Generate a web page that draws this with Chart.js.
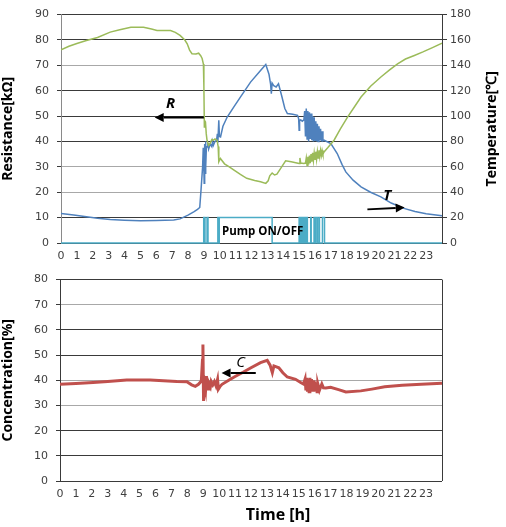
<!DOCTYPE html>
<html><head><meta charset="utf-8">
<script src="https://cdn.jsdelivr.net/npm/chart.js@4.4.0/dist/chart.umd.min.js"></script>
<style>
html,body{margin:0;padding:0;background:#fff;}
#top{position:absolute;left:0;top:0;}
#bot{position:absolute;left:0;top:265px;}
</style></head><body>
<canvas id="top" width="506" height="265"></canvas>
<canvas id="bot" width="506" height="262"></canvas>
<script>
// ---------- DATA ----------
const hourTicks = [0,1,2,3,4,5,6,7,8,9,10,11,12,13,14,15,16,17,18,19,20,21,22,23];

// Resistance R [kOhm] (green, left axis)
const rTime = [0,0.5,1.0,1.6,2.3,3.1,3.7,4.4,5.2,5.7,6.05,6.9,7.2,7.5,7.8,7.95,8.1,8.25,8.5,8.67,8.8,8.89,8.97,9.0,9.03,9.07,9.1,9.15,9.2,9.3,9.4,9.5,9.6,9.7,9.83,9.9,9.94,10.04,10.3,10.6,10.9,11.3,11.7,12.2,12.57,12.9,13.05,13.15,13.3,13.45,13.6,13.9,14.15,14.5,15.0,15.05,15.1,15.3,15.4,15.45,15.5,15.55,15.6,15.65,15.7,15.75,15.8,15.85,15.9,15.95,16.0,16.05,16.1,16.15,16.2,16.25,16.3,16.35,16.4,16.45,16.5,16.57,16.8,17.2,17.6,18.05,18.5,18.9,19.5,20.15,20.7,21.2,21.7,22.26,22.8,23.4,24.0];
const rValues = [76.1,77.5,78.6,79.8,81.0,83.1,84.0,85.0,85.0,84.3,83.7,83.7,83.0,81.8,80.0,78.5,76.0,74.6,74.5,74.8,73.8,72.7,70.5,62,45.7,48,47.7,43,40.5,38.5,39.3,40.8,40.5,41,40.5,38,32,33.3,31.2,30,28.7,27,25.5,24.6,24.1,23.5,24.5,26.5,27.6,26.8,27.1,30,32.4,32,31.3,33.5,31.5,31.3,31.5,33.5,30.5,34,31,34.5,31.5,35,32,35.5,32.5,35.5,33,36,33,36,33.5,36.5,34,36.5,34.5,36.5,35,35.9,37.5,40.5,45,49.6,53.8,57.5,61.8,65.4,68.2,70.6,72.5,73.9,75.3,77.0,78.7];

// Temperature T [deg C] (blue, right axis)
const tTime = [0,0.8,1.6,2.3,3.1,4.0,5.0,6.0,7.1,7.5,7.7,8.0,8.36,8.6,8.74,8.82,8.92,8.96,8.99,9.02,9.05,9.08,9.1,9.13,9.16,9.2,9.25,9.3,9.4,9.5,9.55,9.6,9.7,9.8,9.85,9.88,9.94,9.98,10.05,10.2,10.47,10.9,11.3,11.94,12.57,12.9,13.1,13.2,13.25,13.3,13.4,13.55,13.7,13.9,14.1,14.26,14.6,14.9,14.97,15.0,15.03,15.1,15.2,15.3,15.35,15.4,15.45,15.5,15.55,15.6,15.65,15.7,15.75,15.8,15.85,15.9,15.95,16.0,16.05,16.1,16.15,16.2,16.25,16.3,16.35,16.4,16.45,16.5,16.57,17.0,17.4,17.7,17.94,18.4,18.9,19.5,20.15,20.8,21.6,22.3,23.0,24.0];
const tValues = [23.3,22,20.7,19.6,18.6,18,17.5,17.7,18.1,19,20.2,22,24.6,26.5,28,41.7,60,75,62,47,78,55,80,60,76,75.7,79,74,78,76,80,77,80,81,86,79,96.7,84,83.6,92,99.3,107.5,115,126.8,136,140.7,133,125.5,117.7,126,124,123,125.5,116,106,102,101.5,100.6,98,88.8,96.7,97,96,97,104,84,106,82,104,80,103,82,102,81,100,80,99,81,96,80,94,80,92,81,90,80,88,80.5,81,78.4,70.5,62,56,49.5,44.3,40,36.4,31.5,27.3,24.8,23,21.5];

// Pump ON/OFF (teal step, left axis: 10 = ON, 0 = OFF); state holds until the next time
const pumpTime  = [0,8.99,9.07,9.2,9.26,9.88,9.92,9.97,13.3,15.0,15.03,15.06,15.09,15.12,15.15,15.18,15.21,15.24,15.27,15.30,15.33,15.36,15.39,15.42,15.45,15.48,15.52,15.73,15.76,15.94,15.97,16.05,16.15,16.25,16.28,16.47,16.6,24];
const pumpState = [0,10,0,10,0,10,0,10,0,10,0,10,0,10,0,10,0,10,0,10,0,10,0,10,0,10,0,10,0,10,0,10,0,10,0,10,0,0];

// Concentration C [%] (red, bottom chart)
const cTime = [0,1.0,2.08,3.0,4.19,5.66,6.5,7.34,7.97,8.27,8.5,8.7,8.88,8.95,8.98,9.0,9.02,9.06,9.1,9.15,9.2,9.25,9.3,9.35,9.45,9.5,9.6,9.7,9.8,9.9,9.95,10.05,10.18,10.6,11.0,11.5,12.0,12.6,13.02,13.2,13.34,13.44,13.75,14.0,14.28,14.8,15.12,15.3,15.4,15.45,15.5,15.55,15.6,15.65,15.7,15.75,15.8,15.85,15.9,15.95,16.0,16.05,16.1,16.15,16.2,16.3,16.45,16.55,16.7,17.0,17.5,17.96,18.9,19.6,20.4,21.5,22.7,24];
const cValues = [38.4,38.7,39.1,39.5,40.1,40.1,39.8,39.5,39.4,38.2,37.6,38.4,39.7,48,54.2,42,31.8,38,38.4,36.5,41.7,37,36.5,39,37.5,39.5,38.2,39.5,37.8,40.4,36.5,37.5,38.4,40,41.5,43.2,45,47,47.9,46,43,45.7,45,43,41.3,40.4,39.1,38.5,40.5,36,41,35.5,40.5,35.5,41,35.5,40.5,35.5,40,35.5,39.5,36,39,35.5,38.5,36,38.5,37,36.9,37.2,36.3,35.4,35.8,36.5,37.4,38,38.4,38.8];

// ---------- HELPERS ----------
const pts = (xs, ys) => xs.map((x, i) => ({x: x, y: ys[i]}));
const TICK_FONT = {family: 'DejaVu Sans', size: 11};
const TICK_COLOR = '#404040';
const DARK = '#3a3a3a', LIGHT = '#a8a8a8';
const TITLE_FONT = 'bold 14px "Open Sans"';

const annotate = {
  id: 'annotate',
  afterDatasetsDraw(chart, args, opts) {
    const ctx = chart.ctx;
    const xs = chart.scales.x;
    (opts.items || []).forEach(a => {
      const ys = chart.scales[a.axis];
      ctx.save();
      if (a.type === 'text') {
        ctx.font = a.font;
        ctx.fillStyle = '#000';
        ctx.textAlign = 'center';
        ctx.textBaseline = 'middle';
        ctx.fillText(a.text, xs.getPixelForValue(a.x), ys.getPixelForValue(a.y));
      } else if (a.type === 'arrow') {
        const x1 = xs.getPixelForValue(a.x1), y1 = ys.getPixelForValue(a.y1);
        const x2 = xs.getPixelForValue(a.x2), y2 = ys.getPixelForValue(a.y2);
        const ang = Math.atan2(y2 - y1, x2 - x1);
        const hl = 9, hw = 4.5;
        const bx = x2 - hl * Math.cos(ang), by = y2 - hl * Math.sin(ang);
        ctx.strokeStyle = '#000'; ctx.fillStyle = '#000'; ctx.lineWidth = 2;
        ctx.beginPath(); ctx.moveTo(x1, y1); ctx.lineTo(bx, by); ctx.stroke();
        ctx.beginPath();
        ctx.moveTo(x2, y2);
        ctx.lineTo(bx + hw * Math.sin(ang), by - hw * Math.cos(ang));
        ctx.lineTo(bx - hw * Math.sin(ang), by + hw * Math.cos(ang));
        ctx.closePath(); ctx.fill();
      }
      ctx.restore();
    });
    const ca = chart.chartArea;
    if (opts.rightBorder) {
      ctx.save(); ctx.strokeStyle = DARK; ctx.lineWidth = 1;
      ctx.beginPath(); ctx.moveTo(Math.round(ca.right) + 0.5, ca.top); ctx.lineTo(Math.round(ca.right) + 0.5, ca.bottom); ctx.stroke();
      ctx.restore();
    }
    if (opts.xTitle) {
      const t = opts.xTitle;
      ctx.save(); ctx.font = t.font; ctx.fillStyle = '#000'; ctx.textAlign = 'center'; ctx.textBaseline = 'middle';
      ctx.fillText(t.text, xs.getPixelForValue(t.x), t.y);
      ctx.restore();
    }
    if (opts.rightTitle) {
      const t = opts.rightTitle;
      ctx.save(); ctx.font = t.font; ctx.fillStyle = '#000'; ctx.textAlign = 'center'; ctx.textBaseline = 'middle';
      ctx.translate(chart.width - t.offset, (ca.top + ca.bottom) / 2);
      ctx.rotate(-Math.PI / 2);
      ctx.fillText(t.text, 0, 0);
      ctx.restore();
    }
  }
};

const xScale = (h) => ({
  type: 'linear', min: 0, max: 24,
  afterBuildTicks: s => { s.ticks = hourTicks.map(v => ({value: v})); },
  afterFit: s => { s.height = h; },
  grid: {display: false, drawTicks: false},
  border: {display: false},
  ticks: {font: TICK_FONT, color: TICK_COLOR, autoSkip: false, maxRotation: 0, padding: 7}
});

// ---------- TOP CHART ----------
new Chart(document.getElementById('top'), {
  type: 'line',
  data: {
    datasets: [
      {label: 'R', data: pts(rTime, rValues), yAxisID: 'y', borderColor: '#9BBB59', borderWidth: 1.5, pointRadius: 0, tension: 0},
      {label: 'T', data: pts(tTime, tValues), yAxisID: 'y2', borderColor: '#4F81BD', borderWidth: 1.5, pointRadius: 0, tension: 0},
      {label: 'Pump', data: pts(pumpTime, pumpState), yAxisID: 'y', borderColor: '#4BACC6', borderWidth: 1.5, pointRadius: 0, stepped: 'before', clip: 4}
    ]
  },
  options: {
    responsive: false, animation: false, devicePixelRatio: 1,
    layout: {padding: {top: 14, left: 0, right: 0, bottom: 0}},
    plugins: {
      legend: {display: false}, tooltip: {enabled: false},
      annotate: {
        rightTitle: {text: 'Temperature[℃]', font: TITLE_FONT, offset: 14},
        items: [
          {type: 'text', axis: 'y', x: 6.9, y: 55, text: 'R', font: 'italic bold 15px "Open Sans"'},
          {type: 'arrow', axis: 'y', x1: 9.0, y1: 49.5, x2: 5.9, y2: 49.5},
          {type: 'text', axis: 'y2', x: 20.55, y: 37.5, text: 'T', font: 'italic bold 15px "Open Sans"'},
          {type: 'arrow', axis: 'y2', x1: 19.3, y1: 26.5, x2: 21.65, y2: 28},
          {type: 'text', axis: 'y', x: 12.7, y: 4.4, text: 'Pump ON/OFF', font: 'bold 11.5px "Open Sans"'}
        ]
      }
    },
    scales: {
      x: xScale(22),
      y: {
        position: 'left', min: 0, max: 90,
        afterFit: s => { s.width = 61; },
        ticks: {stepSize: 10, font: TICK_FONT, color: TICK_COLOR, padding: 8},
        grid: {color: c => [70, 30, 20].includes(c.tick && c.tick.value) ? LIGHT : DARK, tickLength: 4, tickColor: DARK},
        border: {display: true, color: '#8a8a8a'},
        title: {display: true, text: 'Resistance[kΩ]', font: {family: 'Open Sans', size: 14, weight: 'bold'}, color: '#000', padding: {top: 0, bottom: 4}}
      },
      y2: {
        position: 'right', min: 0, max: 180,
        afterFit: s => { s.width = 64; },
        ticks: {stepSize: 20, font: TICK_FONT, color: TICK_COLOR, padding: 3},
        grid: {drawOnChartArea: false, tickLength: 5, color: DARK},
        border: {display: true, color: DARK},
        title: {display: false}
      }
    }
  },
  plugins: [annotate]
});

// ---------- BOTTOM CHART ----------
new Chart(document.getElementById('bot'), {
  type: 'line',
  data: {
    datasets: [
      {label: 'C', data: pts(cTime, cValues), borderColor: '#C0504D', borderWidth: 3, pointRadius: 0, tension: 0, clip: 3}
    ]
  },
  options: {
    responsive: false, animation: false, devicePixelRatio: 1,
    layout: {padding: {top: 13, left: 0, right: 64, bottom: 0}},
    plugins: {
      legend: {display: false}, tooltip: {enabled: false},
      annotate: {
        rightBorder: true,
        xTitle: {text: 'Time [h]', x: 13.7, y: 250, font: 'bold 16px "Open Sans"'},
        items: [
          {type: 'text', axis: 'y', x: 11.35, y: 47, text: 'C', font: 'italic 15px "Open Sans"'},
          {type: 'arrow', axis: 'y', x1: 12.3, y1: 42.9, x2: 10.15, y2: 42.9}
        ]
      }
    },
    scales: {
      x: xScale(46),
      y: {
        position: 'left', min: 0, max: 80,
        afterFit: s => { s.width = 60; },
        ticks: {stepSize: 10, font: TICK_FONT, color: TICK_COLOR, padding: 8},
        grid: {color: c => [70, 40, 30].includes(c.tick && c.tick.value) ? LIGHT : DARK, tickLength: 4, tickColor: DARK},
        border: {display: true, color: DARK},
        title: {display: true, text: 'Concentration[%]', font: {family: 'Open Sans', size: 14, weight: 'bold'}, color: '#000', padding: {top: 0, bottom: 4}}
      }
    }
  },
  plugins: [annotate]
});
</script>
</body></html>
